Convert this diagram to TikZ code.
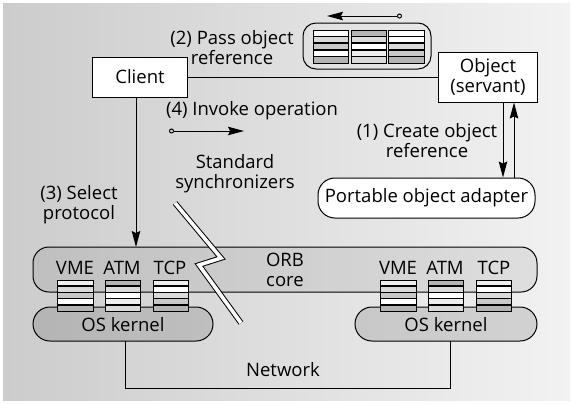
\documentclass[tikz,border=0pt]{standalone}
\usepackage{fontspec}
\setmainfont{Open Sans}
\usetikzlibrary{arrows.meta}
\definecolor{bgL}{RGB}{204,204,204}
\definecolor{bgR}{RGB}{242,242,242}
\definecolor{sA}{RGB}{255,255,255}
\definecolor{sB}{RGB}{238,238,238}
\definecolor{sC}{RGB}{218,218,218}
\definecolor{sD}{RGB}{200,200,200}
\definecolor{sE}{RGB}{180,180,180}
\newcommand{\layerstack}[9]{%
  \pgfmathsetmacro{\rh}{(#4-#2)/5}%
  \fill[#5] ({#1},{#2}) rectangle ({#3},{#2+\rh});
  \fill[#6] ({#1},{#2+\rh}) rectangle ({#3},{#2+2*\rh});
  \fill[#7] ({#1},{#2+2*\rh}) rectangle ({#3},{#2+3*\rh});
  \fill[#8] ({#1},{#2+3*\rh}) rectangle ({#3},{#2+4*\rh});
  \fill[#9] ({#1},{#2+4*\rh}) rectangle ({#3},{#4});
  \foreach \k in {1,2,3,4} {\draw[line width=1.5pt] ({#1},{#2+\k*\rh}) -- ({#3},{#2+\k*\rh});}
  \draw[line width=1pt] ({#1},{#2}) rectangle ({#3},{#4});
}
\tikzset{
  x=1pt, y=-1pt,
  every node/.style={font=\fontsize{18.5}{20}\selectfont, inner sep=0pt},
  lbl/.style={align=center},
  boxw/.style={draw, line width=1pt, fill=white},
  tip/.tip={Stealth[length=16pt,width=8.5pt,inset=2pt]},
  arr/.style={line width=1pt, -tip},
  thinl/.style={line width=1pt},
}
\begin{document}
\begin{tikzpicture}
\useasboundingbox (0,0) rectangle (574,405);
\fill[white] (0,0) rectangle (574,405);
\shade[left color=bgL, right color=bgR] (3,3) rectangle (570,400);

% ORB core band
\draw[thinl, fill=black, fill opacity=0.07, rounded corners=16pt] (33,247) rectangle (537,292);
\coordinate (orbN) at (285,247);
% OS kernels
\draw[thinl, fill=black, fill opacity=0.12, rounded corners=17pt] (33,307) rectangle (213,341);
\draw[thinl, fill=black, fill opacity=0.12, rounded corners=17pt] (355,307) rectangle (537,341);
\node (k1) at (123,325) {OS kernel};
\node (k2) at (446,325) {OS kernel};
\coordinate (k1b) at (125,341);
\coordinate (k2b) at (450,341);

% network
\draw[thinl] (k1b) -- (125,388) -- (450,388) -- (k2b);
\node (net) at (283,370) {Network};

% stacks left
\layerstack{57}{280}{93}{311}{sB}{sC}{sD}{sA}{sE}
\layerstack{105}{280}{140}{311}{sE}{sC}{sA}{sB}{sC}
\layerstack{153}{280}{188}{311}{sB}{sA}{sC}{sD}{sE}
% stacks right
\layerstack{380}{280}{416}{311}{sB}{sC}{sD}{sA}{sE}
\layerstack{428}{280}{463}{311}{sE}{sC}{sA}{sB}{sC}
\layerstack{476}{280}{511}{311}{sB}{sA}{sC}{sD}{sE}

\node (vme1) at (75,268) {VME};
\node (atm1) at (122,268) {ATM};
\node (tcp1) at (170,268) {TCP};
\node (vme2) at (398,268) {VME};
\node (atm2) at (445,268) {ATM};
\node (tcp2) at (494,268) {TCP};

\node[lbl] (orb) at (285,270) {ORB\\core};

% lightning
\draw[line width=1pt, double=white, double distance=3.6pt, miter limit=10]
  (175,203) -- (221,258) -- (199,265) -- (241,323);

% Client and Object
\node[boxw, minimum width=95pt, minimum height=40pt] (client) at (140,77) {Client};
\node[boxw, minimum width=99pt, minimum height=50pt, align=center] (object) at (488,77) {Object\\(servant)};
\draw[thinl] (client.east) -- (object.west);

% object reference pill
\draw[thinl, rounded corners=13pt] (303,23) rectangle (431,69);
\layerstack{313}{30}{348}{63}{sA}{sC}{sD}{sA}{sE}
\layerstack{351}{30}{386}{63}{sE}{sC}{sA}{sB}{sC}
\layerstack{388}{30}{424}{63}{sA}{sA}{sC}{sD}{sE}
\coordinate (pa) at (402,16);
\coordinate (pb) at (327,16);
\draw[thinl, {Circle[open,length=5pt]}-tip] (pa) -- (pb);

\node[lbl] (pass) at (232,48) {(2) Pass object\\reference};

% POA
\node[boxw, rounded corners=17pt, minimum width=217pt, minimum height=40pt] (poa) at (426.5,198) {Portable object adapter};
\draw[arr] (object.south -| 503,0) -- (poa.north -| 503,0);
\draw[arr] (poa.north -| 514,0) -- (object.south -| 514,0);
\node[lbl] (create) at (427,141) {(1) Create object\\reference};

% invoke
\node (invoke) at (252,111) {(4) Invoke operation};
\coordinate (ia) at (169,131);
\coordinate (ib) at (244,131);
\draw[thinl, {Circle[open,length=5pt]}-tip] (ia) -- (ib);

\node[lbl] (sync) at (235,174) {Standard\\synchronizers};
\node[lbl] (select) at (79,205) {(3) Select\\protocol};

% client to ORB
\draw[arr] (client.south -| 136,0) -- (orbN -| 136,0);
\end{tikzpicture}
\end{document}
